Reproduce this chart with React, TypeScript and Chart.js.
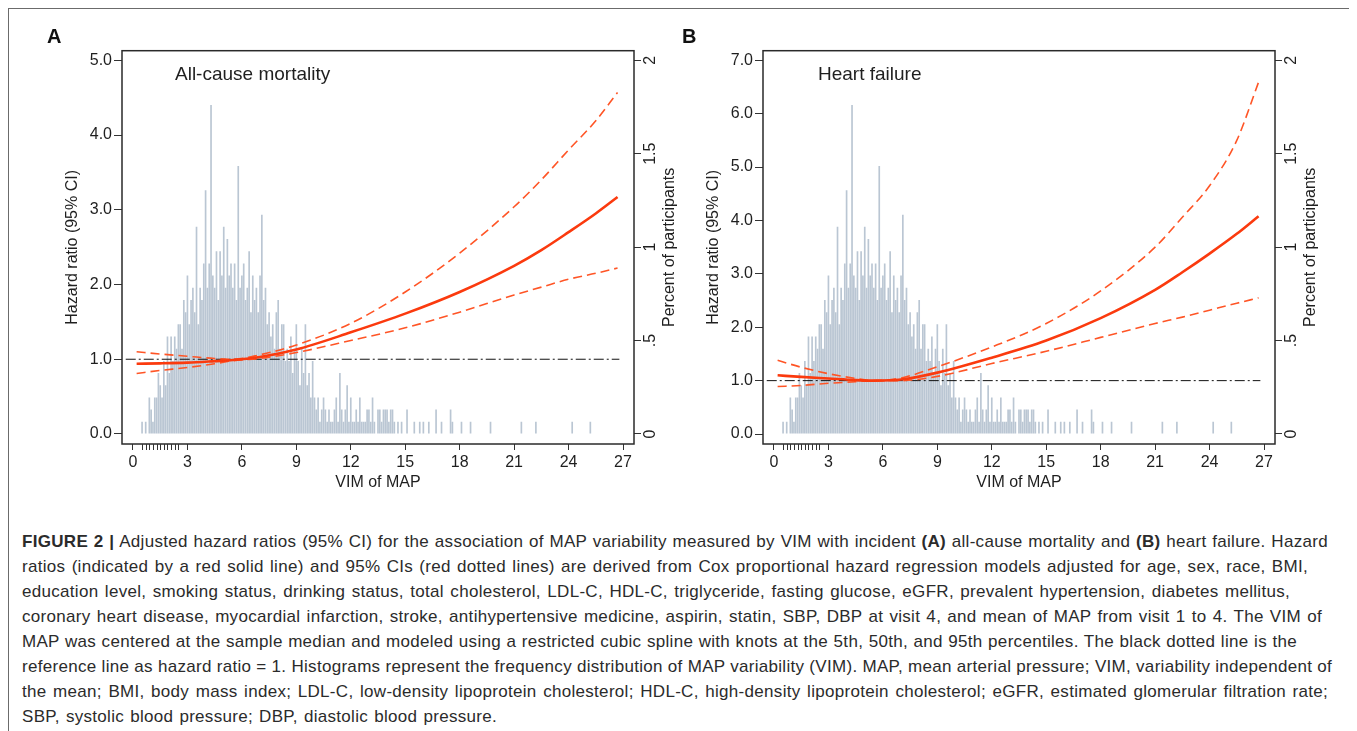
import React, { useEffect, useRef } from 'react';
import { Chart, registerables } from 'chart.js';

Chart.register(...registerables);

const FONT = '"Liberation Sans", Arial, Helvetica, sans-serif';

// ---------- axis ticks ----------
const X_TICKS = [0, 3, 6, 9, 12, 15, 18, 21, 24, 27];
const MINOR_X_TICKS = [0.5, 0.7, 0.9, 1.1, 1.3, 1.5, 1.7, 1.9, 2.1, 2.3, 2.5];
const HR_TICKS_A = [0, 1, 2, 3, 4, 5];
const HR_TICKS_B = [0, 1, 2, 3, 4, 5, 6, 7];
const PCT_TICKS = [0, 0.5, 1, 1.5, 2];
const PCT_LABELS = ['0', '.5', '1', '1.5', '2'];

// ---------- histogram (shared by both panels) ----------
const HIST_BIN_START = 0.5;
const HIST_BIN_WIDTH = 0.1;
const PCT_PER_COUNT = 0.0652;
// counts per 0.1-wide bin, from 0.5 to 14.9
const HIST_COUNTS = [
  1, 0, 1, 0, 3, 2, 1, 3, 3, 5,
  4, 3, 6, 4, 8, 5, 8, 6, 8, 7,
  9, 9, 7, 11, 10, 13, 9, 11, 12, 10,
  17, 9, 12, 11, 14, 20, 12, 14, 27, 13,
  12, 15, 11, 15, 13, 17, 12, 16, 13, 14,
  12, 14, 11, 22, 12, 13, 14, 11, 12, 15,
  10, 13, 11, 12, 10, 13, 18, 11, 12, 9,
  10, 8, 9, 7, 10, 11, 7, 9, 9, 6,
  7, 6, 8, 5, 7, 9, 6, 4, 7, 5,
  9, 4, 5, 3, 6, 3, 2, 3, 1, 2,
  3, 2, 1, 2, 1, 1, 2, 3, 1, 5,
  2, 1, 2, 4, 1, 3, 1, 1, 2, 1,
  3, 1, 1, 1, 2, 2, 1, 3, 1, 0,
  2, 2, 1, 2, 2, 2, 1, 2, 2, 1,
  0, 1, 0, 1, 0,
];
// sparse right tail: [bin centre, count]
const HIST_TAIL: [number, number][] = [
  [15.1, 2], [15.5, 1], [15.8, 1], [16.0, 1], [16.3, 1], [16.7, 2], [17.0, 1],
  [17.5, 2], [17.6, 1], [18.1, 1], [18.6, 1], [19.7, 1], [21.4, 1], [22.2, 1],
  [24.2, 1], [25.2, 1],
];

// ---------- hazard ratio curves ----------
const CURVE_X = [0.2, 1.5, 3, 4.5, 5.5, 7, 9, 12, 15, 18, 21, 22.5, 24, 25.5, 26.7];
const HR_A = [0.94, 0.945, 0.955, 0.975, 0.99, 1.03, 1.13, 1.36, 1.61, 1.9, 2.25, 2.46, 2.7, 2.95, 3.17];
const HI_A = [1.1, 1.07, 1.04, 1.01, 1.0, 1.06, 1.19, 1.48, 1.9, 2.42, 3.04, 3.4, 3.8, 4.19, 4.57];
const LO_A = [0.81, 0.85, 0.89, 0.94, 0.98, 1.01, 1.09, 1.25, 1.42, 1.63, 1.86, 1.965, 2.07, 2.15, 2.22];
const HR_B = [1.1, 1.07, 1.04, 1.01, 1.0, 1.02, 1.15, 1.43, 1.75, 2.17, 2.7, 3.03, 3.38, 3.75, 4.08];
const HI_B = [1.38, 1.25, 1.13, 1.04, 1.0, 1.05, 1.26, 1.63, 2.07, 2.68, 3.5, 4.06, 4.65, 5.5, 6.59];
const LO_B = [0.89, 0.91, 0.95, 0.98, 1.0, 1.0, 1.08, 1.32, 1.55, 1.81, 2.07, 2.19, 2.32, 2.45, 2.55];
const REF_X = [-0.4, 26.8];
const REF_HR = 1;

const RED = '#fb3a0e';
const RED_DASH = '#ff5526';
const BAR = '#bac6d3';
const INK = '#1f1f1f';

function histData() {
  const pts = HIST_COUNTS.map((c, i) => ({
    x: +(HIST_BIN_START + i * HIST_BIN_WIDTH).toFixed(2),
    y: c * PCT_PER_COUNT,
  }));
  HIST_TAIL.forEach(([x, c]) => pts.push({ x, y: c * PCT_PER_COUNT }));
  return pts;
}

type PanelProps = {
  left: number;
  width: number;
  leftAxisWidth: number;
  rightAxisWidth: number;
  hrMin: number;
  hrMax: number;
  hrTicks: number[];
  hr: number[];
  hi: number[];
  lo: number[];
};

function Panel(p: PanelProps) {
  const ref = useRef<HTMLCanvasElement | null>(null);
  useEffect(() => {
    if (!ref.current) return;
    const pts = (ys: number[]) => CURVE_X.map((x, i) => ({ x, y: ys[i] }));
    const frame = {
      id: 'frame' + p.left,
      afterDraw(chart: any) {
        const { ctx, chartArea, scales } = chart;
        const { left, top, right, bottom } = chartArea;
        ctx.save();
        ctx.strokeStyle = '#2a2a2a';
        ctx.lineWidth = 1.5;
        ctx.strokeRect(left, top, right - left, bottom - top);
        ctx.lineWidth = 1;
        ctx.strokeStyle = '#333';
        MINOR_X_TICKS.forEach((v) => {
          const px = Math.round(scales.x.getPixelForValue(v)) + 0.5;
          ctx.beginPath();
          ctx.moveTo(px, bottom);
          ctx.lineTo(px, bottom + 6);
          ctx.stroke();
        });
        ctx.fillStyle = INK;
        ctx.font = '16px ' + FONT;
        ctx.textAlign = 'center';
        ctx.textBaseline = 'middle';
        ctx.translate(right + 36, (top + bottom) / 2);
        ctx.rotate(-Math.PI / 2);
        ctx.fillText('Percent of participants', 0, 0);
        ctx.restore();
      },
    };
    const tickFont = { family: FONT, size: 16 };
    const chart = new Chart(ref.current, {
      type: 'bar',
      data: {
        datasets: [
          {
            type: 'line', label: 'Hazard ratio', data: pts(p.hr), borderColor: RED, borderWidth: 2.6,
            pointRadius: 0, cubicInterpolationMode: 'monotone', yAxisID: 'y', order: 1,
          } as any,
          {
            type: 'line', label: 'Upper 95% CI', data: pts(p.hi), borderColor: RED_DASH, borderWidth: 1.6,
            borderDash: [9, 5], pointRadius: 0, cubicInterpolationMode: 'monotone', yAxisID: 'y', order: 2,
          },
          {
            type: 'line', label: 'Lower 95% CI', data: pts(p.lo), borderColor: RED_DASH, borderWidth: 1.6,
            borderDash: [9, 5], pointRadius: 0, cubicInterpolationMode: 'monotone', yAxisID: 'y', order: 2,
          },
          {
            type: 'line', label: 'Reference', data: REF_X.map((x) => ({ x, y: REF_HR })), borderColor: '#111',
            borderWidth: 1, borderDash: [10, 3, 2, 3], pointRadius: 0, yAxisID: 'y', order: 3,
          },
          {
            type: 'bar', label: 'Percent', data: histData(), backgroundColor: BAR, borderWidth: 0,
            barPercentage: 0.92, categoryPercentage: 1, yAxisID: 'y2', order: 5,
          },
        ] as any,
      },
      options: {
        responsive: false,
        animation: false,
        events: [],
        layout: { padding: { top: 42.7, left: 0, right: 0, bottom: 0 } },
        plugins: { legend: { display: false }, tooltip: { enabled: false } },
        scales: {
          x: {
            type: 'linear', position: 'bottom', min: -0.606, max: 27.606, offset: false,
            afterBuildTicks: (s: any) => { s.ticks = X_TICKS.map((v) => ({ value: v })); },
            afterFit: (s: any) => { s.height = 64; },
            grid: { drawOnChartArea: false, drawTicks: true, tickLength: 6, tickColor: '#333', offset: false },
            border: { display: false },
            ticks: { autoSkip: false, maxRotation: 0, padding: 3.4, color: INK, font: tickFont },
            title: { display: true, text: 'VIM of MAP', color: INK, font: tickFont, padding: { top: 0, bottom: 15.4 } },
          },
          y: {
            type: 'linear', position: 'left', min: p.hrMin, max: p.hrMax,
            afterBuildTicks: (s: any) => { s.ticks = p.hrTicks.map((v) => ({ value: v })); },
            afterFit: (s: any) => { s.width = p.leftAxisWidth; },
            grid: { drawOnChartArea: false, drawTicks: true, tickLength: 8, tickColor: '#333' },
            border: { display: false },
            ticks: { padding: 2, color: INK, font: tickFont, callback: (v: any) => Number(v).toFixed(1) },
            title: {
              display: true, text: 'Hazard ratio (95% CI)', color: INK, font: tickFont,
              padding: { top: p.leftAxisWidth - 49 - 9.6, bottom: 0 },
            },
          },
          y2: {
            type: 'linear', position: 'right', min: -0.0536, max: 2.0512,
            afterBuildTicks: (s: any) => { s.ticks = PCT_TICKS.map((v) => ({ value: v })); },
            afterFit: (s: any) => { s.width = p.rightAxisWidth; },
            grid: { drawOnChartArea: false, drawTicks: true, tickLength: 7, tickColor: '#333' },
            border: { display: false },
            ticks: {
              minRotation: 90, maxRotation: 90, crossAlign: 'center', padding: -1.5, color: INK, font: tickFont,
              callback: (v: any) => PCT_LABELS[PCT_TICKS.indexOf(Number(v))] ?? String(v),
            },
          },
        },
      } as any,
      plugins: [frame],
    });
    return () => chart.destroy();
  }, []);
  return (
    <canvas
      ref={ref}
      width={p.width}
      height={500}
      style={{ position: 'absolute', left: p.left, top: 0, width: p.width, height: 500 }}
    />
  );
}

const CAPTION_STYLE: React.CSSProperties = {
  position: 'absolute',
  left: 14,
  top: 520.5,
  fontFamily: FONT,
  fontSize: 17,
  letterSpacing: '0.3px',
  lineHeight: '25px',
  color: '#2b2b2b',
  whiteSpace: 'nowrap',
};

const lineStyle = (w: number): React.CSSProperties => ({
  width: w,
  textAlign: 'justify',
  textAlignLast: 'justify',
  whiteSpace: 'normal',
  height: 25,
  overflow: 'visible',
});

export default function App() {
  useEffect(() => {
    document.body.style.overflow = 'hidden';
  }, []);
  return (
    <div style={{ position: 'relative', width: 1346, height: 723, fontFamily: FONT }}>
      <div
        style={{
          position: 'absolute', left: 0, top: 0, width: 1344, height: 740,
          border: '1px solid #6b6b6b',
        }}
      />
      <Panel left={0} width={672} leftAxisWidth={114} rightAxisWidth={46}
        hrMin={-0.134} hrMax={5.128} hrTicks={HR_TICKS_A} hr={HR_A} hi={HI_A} lo={LO_A} />
      <Panel left={672} width={670} leftAxisWidth={83} rightAxisWidth={75}
        hrMin={-0.187} hrMax={7.18} hrTicks={HR_TICKS_B} hr={HR_B} hi={HI_B} lo={LO_B} />
      <div style={{ position: 'absolute', left: 39, top: 18, fontSize: 20, lineHeight: '20px', fontWeight: 700, color: '#111' }}>A</div>
      <div style={{ position: 'absolute', left: 674, top: 18, fontSize: 20, lineHeight: '20px', fontWeight: 700, color: '#111' }}>B</div>
      <div style={{ position: 'absolute', left: 167, top: 55.5, fontSize: 19, lineHeight: '19px', color: INK }}>All-cause mortality</div>
      <div style={{ position: 'absolute', left: 810, top: 55.5, fontSize: 19, lineHeight: '19px', color: INK }}>Heart failure</div>
      <div style={CAPTION_STYLE}>
        <div style={lineStyle(1306)}><b>FIGURE 2 |</b> Adjusted hazard ratios (95% CI) for the association of MAP variability measured by VIM with incident <b>(A)</b> all-cause mortality and <b>(B)</b> heart failure. Hazard</div>
        <div style={lineStyle(1286)}>ratios (indicated by a red solid line) and 95% CIs (red dotted lines) are derived from Cox proportional hazard regression models adjusted for age, sex, race, BMI,</div>
        <div style={lineStyle(1268)}>education level, smoking status, drinking status, total cholesterol, LDL-C, HDL-C, triglyceride, fasting glucose, eGFR, prevalent hypertension, diabetes mellitus,</div>
        <div style={lineStyle(1300)}>coronary heart disease, myocardial infarction, stroke, antihypertensive medicine, aspirin, statin, SBP, DBP at visit 4, and mean of MAP from visit 1 to 4. The VIM of</div>
        <div style={lineStyle(1275)}>MAP was centered at the sample median and modeled using a restricted cubic spline with knots at the 5th, 50th, and 95th percentiles. The black dotted line is the</div>
        <div style={lineStyle(1310)}>reference line as hazard ratio = 1. Histograms represent the frequency distribution of MAP variability (VIM). MAP, mean arterial pressure; VIM, variability independent of</div>
        <div style={lineStyle(1306)}>the mean; BMI, body mass index; LDL-C, low-density lipoprotein cholesterol; HDL-C, high-density lipoprotein cholesterol; eGFR, estimated glomerular filtration rate;</div>
        <div style={lineStyle(475)}>SBP, systolic blood pressure; DBP, diastolic blood pressure.</div>
      </div>
    </div>
  );
}
